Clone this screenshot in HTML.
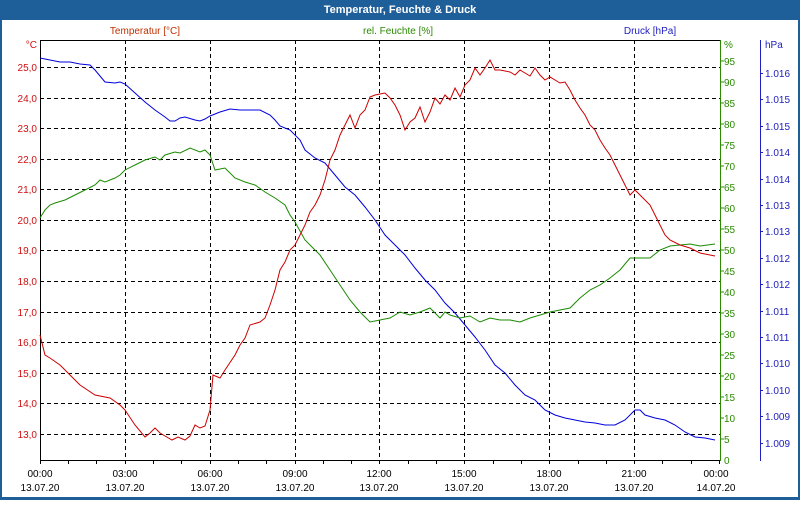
<!DOCTYPE html>
<html><head><meta charset="utf-8"><style>
body{margin:0;width:800px;height:500px;overflow:hidden;background:#fff;font-family:"Liberation Sans",sans-serif}
</style></head><body>
<svg width="800" height="500" xmlns="http://www.w3.org/2000/svg" font-family="Liberation Sans, sans-serif" font-size="10">
<rect x="0" y="0" width="800" height="500" fill="#1f5f99"/>
<rect x="2" y="20" width="796" height="477" fill="#fff"/>
<text x="400" y="13" fill="#fff" font-weight="bold" font-size="11" text-anchor="middle">Temperatur, Feuchte &amp; Druck</text>
<text x="145" y="34" fill="#c03000" text-anchor="middle">Temperatur [°C]</text>
<text x="398" y="34" fill="#2a8a00" text-anchor="middle">rel. Feuchte [%]</text>
<text x="650" y="34" fill="#2020c0" text-anchor="middle">Druck [hPa]</text>
<g stroke="#000" stroke-dasharray="4,3" stroke-width="1">
<line x1="40" x2="720" y1="67.5" y2="67.5"/><line x1="40" x2="720" y1="98.5" y2="98.5"/><line x1="40" x2="720" y1="128.5" y2="128.5"/><line x1="40" x2="720" y1="159.5" y2="159.5"/><line x1="40" x2="720" y1="189.5" y2="189.5"/><line x1="40" x2="720" y1="220.5" y2="220.5"/><line x1="40" x2="720" y1="250.5" y2="250.5"/><line x1="40" x2="720" y1="281.5" y2="281.5"/><line x1="40" x2="720" y1="312.5" y2="312.5"/><line x1="40" x2="720" y1="342.5" y2="342.5"/><line x1="40" x2="720" y1="373.5" y2="373.5"/><line x1="40" x2="720" y1="403.5" y2="403.5"/><line x1="40" x2="720" y1="434.5" y2="434.5"/>
<line x1="125.5" x2="125.5" y1="40" y2="460"/><line x1="210.5" x2="210.5" y1="40" y2="460"/><line x1="295.5" x2="295.5" y1="40" y2="460"/><line x1="379.5" x2="379.5" y1="40" y2="460"/><line x1="464.5" x2="464.5" y1="40" y2="460"/><line x1="549.5" x2="549.5" y1="40" y2="460"/><line x1="634.5" x2="634.5" y1="40" y2="460"/>
</g>
<line x1="40" x2="720" y1="40.5" y2="40.5" stroke="#000"/>
<line x1="40.5" x2="40.5" y1="40" y2="461" stroke="#000"/>
<line x1="40" x2="720" y1="460.5" y2="460.5" stroke="#000"/>
<line x1="720.5" x2="720.5" y1="40" y2="461" stroke="#2a8a00"/>
<line x1="760.5" x2="760.5" y1="40" y2="461" stroke="#2020c0"/>
<g stroke="#000">
<path d="M40.5 460v4M68.5 460v4M96.5 460v4M125.5 460v4M153.5 460v4M181.5 460v4M210.5 460v4M238.5 460v4M266.5 460v4M295.5 460v4M323.5 460v4M351.5 460v4M379.5 460v4M408.5 460v4M436.5 460v4M464.5 460v4M493.5 460v4M521.5 460v4M549.5 460v4M578.5 460v4M606.5 460v4M634.5 460v4M662.5 460v4M691.5 460v4M719.5 460v4"/>
</g>
<g fill="#d01010" text-anchor="end">
<text x="37" y="48">°C</text>
<text x="37" y="71">25,0</text><text x="37" y="102">24,0</text><text x="37" y="132">23,0</text><text x="37" y="163">22,0</text><text x="37" y="193">21,0</text><text x="37" y="224">20,0</text><text x="37" y="254">19,0</text><text x="37" y="285">18,0</text><text x="37" y="316">17,0</text><text x="37" y="346">16,0</text><text x="37" y="377">15,0</text><text x="37" y="407">14,0</text><text x="37" y="438">13,0</text>
</g>
<g fill="#2a8a00">
<text x="724" y="48">%</text>
<text x="724" y="65">95</text><text x="724" y="86">90</text><text x="724" y="107">85</text><text x="724" y="128">80</text><text x="724" y="149">75</text><text x="724" y="170">70</text><text x="724" y="191">65</text><text x="724" y="212">60</text><text x="724" y="233">55</text><text x="724" y="254">50</text><text x="724" y="275">45</text><text x="724" y="296">40</text><text x="724" y="317">35</text><text x="724" y="338">30</text><text x="724" y="359">25</text><text x="724" y="380">20</text><text x="724" y="401">15</text><text x="724" y="422">10</text><text x="724" y="443">5</text><text x="724" y="464">0</text>
</g>
<path d="M720 61h4M720 82h4M720 103h4M720 124h4M720 145h4M720 166h4M720 187h4M720 208h4M720 229h4M720 250h4M720 271h4M720 292h4M720 313h4M720 334h4M720 355h4M720 376h4M720 397h4M720 418h4M720 439h4" stroke="#2a8a00"/>
<g fill="#2020c0">
<text x="765" y="48">hPa</text>
<text x="765" y="77">1.016</text><text x="765" y="103">1.015</text><text x="765" y="130">1.015</text><text x="765" y="156">1.014</text><text x="765" y="183">1.014</text><text x="765" y="209">1.013</text><text x="765" y="235">1.013</text><text x="765" y="262">1.012</text><text x="765" y="288">1.012</text><text x="765" y="315">1.011</text><text x="765" y="341">1.011</text><text x="765" y="367">1.010</text><text x="765" y="394">1.010</text><text x="765" y="420">1.009</text><text x="765" y="447">1.009</text>
</g>
<path d="M760 73.5h3M760 99.5h3M760 126.5h3M760 152.5h3M760 179.5h3M760 205.5h3M760 231.5h3M760 258.5h3M760 284.5h3M760 311.5h3M760 337.5h3M760 363.5h3M760 390.5h3M760 416.5h3M760 443.5h3" stroke="#2020c0"/>
<g fill="#000" text-anchor="middle">
<text x="40" y="477">00:00</text><text x="40" y="491">13.07.20</text>
<text x="125" y="477">03:00</text><text x="125" y="491">13.07.20</text>
<text x="210" y="477">06:00</text><text x="210" y="491">13.07.20</text>
<text x="295" y="477">09:00</text><text x="295" y="491">13.07.20</text>
<text x="379" y="477">12:00</text><text x="379" y="491">13.07.20</text>
<text x="464" y="477">15:00</text><text x="464" y="491">13.07.20</text>
<text x="549" y="477">18:00</text><text x="549" y="491">13.07.20</text>
<text x="634" y="477">21:00</text><text x="634" y="491">13.07.20</text>
<text x="716" y="477">00:00</text><text x="716" y="491">14.07.20</text>
</g>
<polyline fill="none" stroke="#0000dd" points="40,58 60,62 70,62 80,64 90,65 95,70 105,82 115,83 120,82 125,84 135,93 145,102 155,110 165,117 170,121 175,121 180,118 185,117 195,120 200,121 205,119 210,116 220,112 230,109 240,110 250,110 260,110 270,115 275,120 280,126 290,130 300,140 305,150 315,158 325,163 335,175 345,187 355,195 365,207 375,220 385,235 395,245 405,255 415,268 425,280 435,290 445,303 455,313 465,325 475,337 485,350 495,365 505,373 515,385 525,395 535,400 545,410 555,415 565,418 575,420 585,422 595,423 605,425 615,425 625,420 635,410 640,410 645,415 655,418 665,420 675,425 685,432 695,437 705,438 715,440"/>
<polyline fill="none" stroke="#1a8a00" points="40,218 45,210 50,205 55,203 65,200 75,195 85,190 95,185 100,180 105,182 115,178 120,175 125,170 135,165 145,160 155,157 160,160 165,155 175,152 180,153 190,148 200,152 205,150 210,155 215,170 225,168 235,178 245,182 255,185 265,192 275,198 285,205 290,215 295,222 305,240 315,250 320,255 330,270 340,285 350,300 360,312 370,322 380,320 390,318 400,312 410,315 420,312 430,308 440,318 445,312 450,315 460,318 470,316 480,322 490,318 500,320 510,320 520,322 530,318 540,315 550,312 560,310 570,308 580,298 590,290 600,285 610,278 620,270 630,258 640,258 650,258 660,250 670,246 680,245 690,244 700,246 715,244"/>
<polyline fill="none" stroke="#cc0000" points="40,335 45,355 50,358 60,365 70,375 80,385 95,395 110,398 120,405 125,410 135,425 145,437 150,433 155,428 160,433 165,436 172,440 178,437 185,440 190,436 195,425 200,428 205,426 210,410 213,375 220,378 225,370 235,355 240,345 245,338 250,325 260,322 265,318 270,305 275,290 280,270 285,262 290,250 295,245 300,235 305,225 310,212 315,205 320,195 325,180 330,160 335,150 340,135 345,125 350,115 355,128 360,115 365,110 370,97 375,95 380,94 385,93 390,98 395,105 400,115 405,130 410,122 415,118 420,107 425,122 430,112 435,98 440,104 445,95 450,100 455,88 460,97 465,85 470,80 475,68 480,75 485,68 490,60 495,70 500,70 510,72 515,75 520,70 525,73 530,76 535,68 540,75 545,80 550,77 560,83 565,82 570,90 575,100 580,108 585,115 590,125 595,130 600,140 605,148 610,155 615,165 620,175 625,185 630,195 635,190 640,195 645,200 650,205 655,215 660,225 665,235 670,240 680,245 690,248 700,253 715,256"/>
</svg>
</body></html>
